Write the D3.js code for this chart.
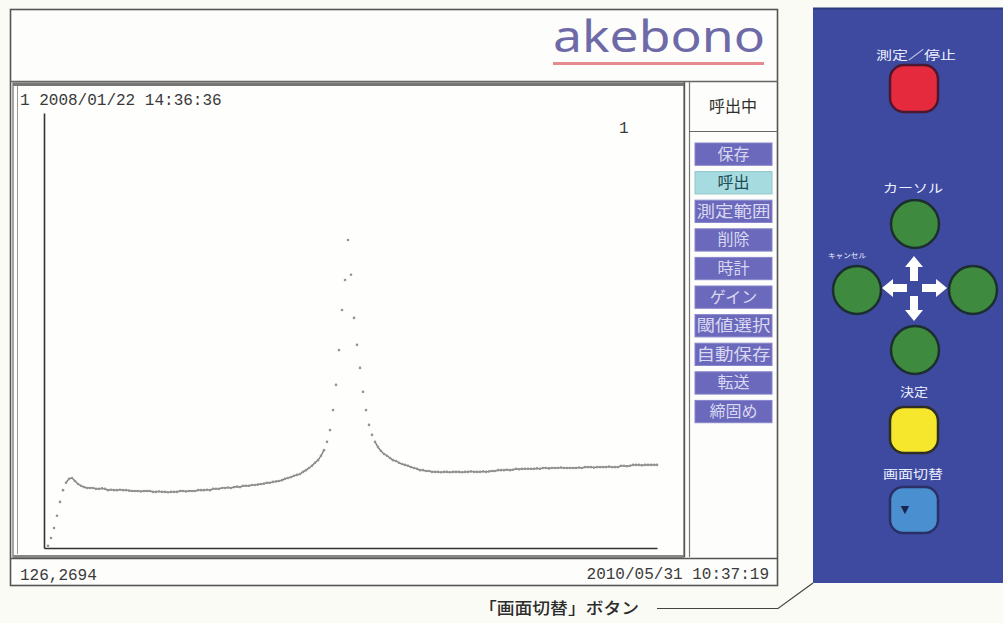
<!DOCTYPE html>
<html>
<head>
<meta charset="utf-8">
<script src="https://cdn.jsdelivr.net/npm/d3@7/dist/d3.min.js"></script>
<style>
  html, body { margin: 0; padding: 0; background: #fbfbf6; }
  svg { display: block; }
  .mono { font-family: "Liberation Mono", "DejaVu Sans Mono", monospace; }
  .jp { font-family: "Noto Sans CJK JP", "Noto Sans", sans-serif; }
</style>
</head>
<body>
<svg id="chart" width="1003" height="623"></svg>
<script>
// Recorded trace (sample index → reading)
const values = [
  5, 23, 46, 74, 106, 133, 150, 159, 161, 154, 147, 143, 140,
  138, 138, 138,
  136, 136, 137, 136,
  133, 134, 133, 133, 134, 133, 133, 132,
  131, 131, 131, 130, 131, 131, 131,
  129, 129, 130, 129, 129, 128, 129, 129, 129,
  131, 131, 130, 131, 131, 131,
  133, 133, 133, 134, 133,
  136, 136, 136,
  138, 138, 139, 138,
  140, 141, 140,
  143, 143, 143,
  145, 145, 146,
  147, 148, 150, 150, 152, 153, 154, 156, 159, 161, 163, 166, 168, 170,
  175, 179, 184, 189, 196, 202, 212, 225, 244, 271, 317, 375, 455, 547, 616,
  708,
  628, 529, 467, 414, 359, 317, 283, 260, 244, 232, 223, 216, 212, 207, 202,
  200, 196, 193, 191, 189, 186, 184, 182, 179, 179, 177, 177, 175, 175,
  175, 174, 175, 175, 174, 175, 175, 175, 174, 175, 175, 176, 175, 175, 175, 176, 175, 176,
  177, 177,
  179, 179, 179, 180, 179, 180, 182, 181, 182, 182, 182,
  182, 182, 183, 182, 184, 184, 183, 184, 184, 184, 185, 184, 184, 184, 184,
  184, 185, 184, 186, 186, 186, 185, 186, 186, 186, 186, 187, 186, 186, 186,
  189, 189, 188, 189, 191, 191, 191, 190, 191, 191, 191, 191, 191
];
const yDomain = [0, 1000];

// Screen texts
const recordStamp = "1 2008/01/22 14:36:36";
const channelLabel = "1";
const cursorReadout = "126,2694";
const clockStamp = "2010/05/31 10:37:19";
const modeLabel = "呼出中";
const brandName = "akebono";

// Side menu
const menuItems = ["保存", "呼出", "測定範囲", "削除", "時計", "ゲイン", "閾値選択", "自動保存", "転送", "締固め"];
const activeItem = "呼出";

// Control panel labels
const panelLabels = {
  run: "測定／停止",
  cursor: "カーソル",
  cancel: "キャンセル",
  enter: "決定",
  screen: "画面切替"
};
const calloutText = "「画面切替」ボタン";

const svg = d3.select("#chart");

// ---------- device screen frame ----------
const frame = svg.append("g");
frame.append("rect").attr("x", 10.5).attr("y", 9.5).attr("width", 767).attr("height", 576)
  .attr("fill", "#fdfdfb").attr("stroke", "#555").attr("stroke-width", 1.6);
// header divider
frame.append("line").attr("x1", 10).attr("x2", 778).attr("y1", 81.5).attr("y2", 81.5)
  .attr("stroke", "#666").attr("stroke-width", 1.4);
// chart panel (inset border)
frame.append("rect").attr("x", 13).attr("y", 83).attr("width", 671).attr("height", 474)
  .attr("fill", "#fefefd").attr("stroke", "#6a6a6a").attr("stroke-width", 1.2);
frame.append("line").attr("x1", 13).attr("x2", 684).attr("y1", 84.5).attr("y2", 84.5)
  .attr("stroke", "#777").attr("stroke-width", 3);
frame.append("line").attr("x1", 17.5).attr("x2", 17.5).attr("y1", 86).attr("y2", 554)
  .attr("stroke", "#999").attr("stroke-width", 1);
frame.append("line").attr("x1", 13).attr("x2", 684).attr("y1", 556.5).attr("y2", 556.5)
  .attr("stroke", "#888").attr("stroke-width", 3);
// menu column
frame.append("line").attr("x1", 684.5).attr("x2", 684.5).attr("y1", 82).attr("y2", 557)
  .attr("stroke", "#555").attr("stroke-width", 1.4);
frame.append("line").attr("x1", 689.5).attr("x2", 689.5).attr("y1", 82).attr("y2", 557)
  .attr("stroke", "#777").attr("stroke-width", 1.2);
frame.append("line").attr("x1", 689).attr("x2", 778).attr("y1", 131.5).attr("y2", 131.5)
  .attr("stroke", "#666").attr("stroke-width", 1.2);
// status bar top
frame.append("line").attr("x1", 10).attr("x2", 778).attr("y1", 558.5).attr("y2", 558.5)
  .attr("stroke", "#555").attr("stroke-width", 1.4);

// brand mark
svg.append("text").attr("x", 553).attr("y", 52)
  .attr("textLength", 212).attr("lengthAdjust", "spacingAndGlyphs")
  .attr("font-family", "Noto Sans, sans-serif").attr("font-size", 44).attr("font-weight", 400)
  .attr("fill", "#6e6aa8").text(brandName);
svg.append("line").attr("x1", 553).attr("x2", 764).attr("y1", 63.5).attr("y2", 63.5)
  .attr("stroke", "#e58a8e").attr("stroke-width", 3);

// ---------- plot ----------
const x = d3.scaleLinear().domain([0, values.length - 1]).range([48, 657]);
const y = d3.scaleLinear().domain(yDomain).range([548, 113]);
const xAxisScale = d3.scaleLinear().domain([0, values.length - 1]).range([44, 657]);

svg.append("g").attr("transform", "translate(44,0)")
  .call(d3.axisLeft(y).tickValues([]).tickSizeOuter(0))
  .call(g => g.select(".domain").attr("stroke", "#333").attr("stroke-width", 1.6));
svg.append("g").attr("transform", "translate(0,548)")
  .call(d3.axisBottom(xAxisScale).tickValues([]).tickSizeOuter(0))
  .call(g => g.select(".domain").attr("stroke", "#333").attr("stroke-width", 1.6));

const pts = values.map((v, i) => [x(i), y(v)]);
const trace = svg.append("g");
// neighbouring samples that sit close together read as a continuous stroke
const segs = [];
for (let i = 1; i < pts.length; i++) {
  if (Math.abs(pts[i][1] - pts[i - 1][1]) < 6) segs.push([pts[i - 1], pts[i]]);
}
trace.selectAll("line.seg").data(segs).join("line").attr("class", "seg")
  .attr("x1", d => d[0][0]).attr("y1", d => d[0][1])
  .attr("x2", d => d[1][0]).attr("y2", d => d[1][1])
  .attr("stroke", "#777").attr("stroke-width", 1.3).attr("stroke-linecap", "round");
trace.selectAll("circle").data(pts).join("circle")
  .attr("cx", d => d[0]).attr("cy", d => d[1]).attr("r", 1.3)
  .attr("fill", "#939393");

svg.append("text").attr("class", "mono").attr("x", 20).attr("y", 105)
  .attr("font-size", 16).attr("fill", "#3a3a3a").text(recordStamp);
svg.append("text").attr("class", "mono").attr("x", 619).attr("y", 133)
  .attr("font-size", 16).attr("fill", "#3a3a3a").text(channelLabel);
svg.append("text").attr("class", "mono").attr("x", 20).attr("y", 580)
  .attr("font-size", 16).attr("fill", "#3a3a3a").text(cursorReadout);
svg.append("text").attr("class", "mono").attr("x", 769).attr("y", 579)
  .attr("text-anchor", "end").attr("font-size", 16).attr("fill", "#3a3a3a").text(clockStamp);

// ---------- side menu ----------
svg.append("text").attr("class", "jp").attr("x", 733).attr("y", 112)
  .attr("text-anchor", "middle").attr("font-size", 16).attr("fill", "#2f2f2f").text(modeLabel);

const band = d3.scaleBand().domain(menuItems).range([143, 422.7]).paddingInner(0.22);
const menu = svg.append("g").selectAll("g").data(menuItems).join("g")
  .attr("transform", d => `translate(695,${band(d)})`);
menu.append("rect").attr("width", 77).attr("height", band.bandwidth())
  .attr("fill", d => d === activeItem ? "#a6dbe0" : "#6b69bb")
  .attr("stroke", d => d === activeItem ? "#8fc6cc" : "#8886cc").attr("stroke-width", 1);
menu.append("text").attr("class", "jp")
  .attr("x", 38.5).attr("y", band.bandwidth() / 2 + 5.5)
  .attr("text-anchor", "middle").attr("font-size", 16)
  .attr("textLength", d => d.length >= 4 ? 74 : null)
  .attr("lengthAdjust", "spacingAndGlyphs")
  .attr("fill", d => d === activeItem ? "#1f4d55" : "#d9d8f2")
  .text(d => d);

// ---------- control panel ----------
const panel = svg.append("g");
panel.append("rect").attr("x", 813).attr("y", 8).attr("width", 190).attr("height", 575)
  .attr("fill", "#3d4a9f");
panel.append("line").attr("x1", 813).attr("x2", 1003).attr("y1", 8.5).attr("y2", 8.5)
  .attr("stroke", "#2e3a7e").attr("stroke-width", 2);

const label = (txt, cx, by, size, len) => panel.append("text").attr("class", "jp")
  .attr("x", cx).attr("y", by).attr("text-anchor", "middle")
  .attr("font-size", size).attr("fill", "#eef0ff")
  .attr("textLength", len).attr("lengthAdjust", "spacingAndGlyphs").text(txt);

label(panelLabels.run, 916, 60, 12, 80);
panel.append("rect").attr("x", 890).attr("y", 65).attr("width", 48).attr("height", 47).attr("rx", 14)
  .attr("fill", "#e62a3e").attr("stroke", "#4a1830").attr("stroke-width", 2.5);

label(panelLabels.cursor, 913, 193, 12, 60);
label(panelLabels.cancel, 847, 258, 7, 38);
const greens = [[915, 224], [857, 290], [973, 290], [915, 350]];
panel.selectAll("circle.key").data(greens).join("circle").attr("class", "key")
  .attr("cx", d => d[0]).attr("cy", d => d[1]).attr("r", 24)
  .attr("fill", "#3e8a3f").attr("stroke", "#1c2e30").attr("stroke-width", 2.5);

// direction arrows
const arrowShape = "M0,-4 L14,-4 L14,-9 L25,0 L14,9 L14,4 L0,4 Z";
const arrows = [[914, 281, -90], [907, 288, 180], [922, 288, 0], [914, 296, 90]];
panel.selectAll("path.arrow").data(arrows).join("path").attr("class", "arrow")
  .attr("d", arrowShape)
  .attr("transform", d => `translate(${d[0]},${d[1]}) rotate(${d[2]})`)
  .attr("fill", "#ffffff");

label(panelLabels.enter, 914, 397, 12, 28);
panel.append("rect").attr("x", 890).attr("y", 407).attr("width", 48).attr("height", 46).attr("rx", 14)
  .attr("fill", "#f6e72c").attr("stroke", "#2e2e22").attr("stroke-width", 2.5);

label(panelLabels.screen, 913, 479, 12, 60);
panel.append("rect").attr("x", 890).attr("y", 487).attr("width", 48).attr("height", 46).attr("rx", 13)
  .attr("fill", "#4a8fd0").attr("stroke", "#2a2f66").attr("stroke-width", 2.5);
panel.append("text").attr("x", 905).attr("y", 514).attr("text-anchor", "middle")
  .attr("font-size", 14).attr("fill", "#1a2452").text("▼");

// callout
svg.append("path").attr("d", "M657,608.5 L778,608.5 L813,583")
  .attr("fill", "none").attr("stroke", "#444").attr("stroke-width", 1.2);
svg.append("text").attr("class", "jp").attr("x", 479).attr("y", 614)
  .attr("font-size", 16).attr("font-weight", 500).attr("fill", "#2c2c2c")
  .attr("textLength", 160).attr("lengthAdjust", "spacingAndGlyphs").text(calloutText);
</script>
</body>
</html>
